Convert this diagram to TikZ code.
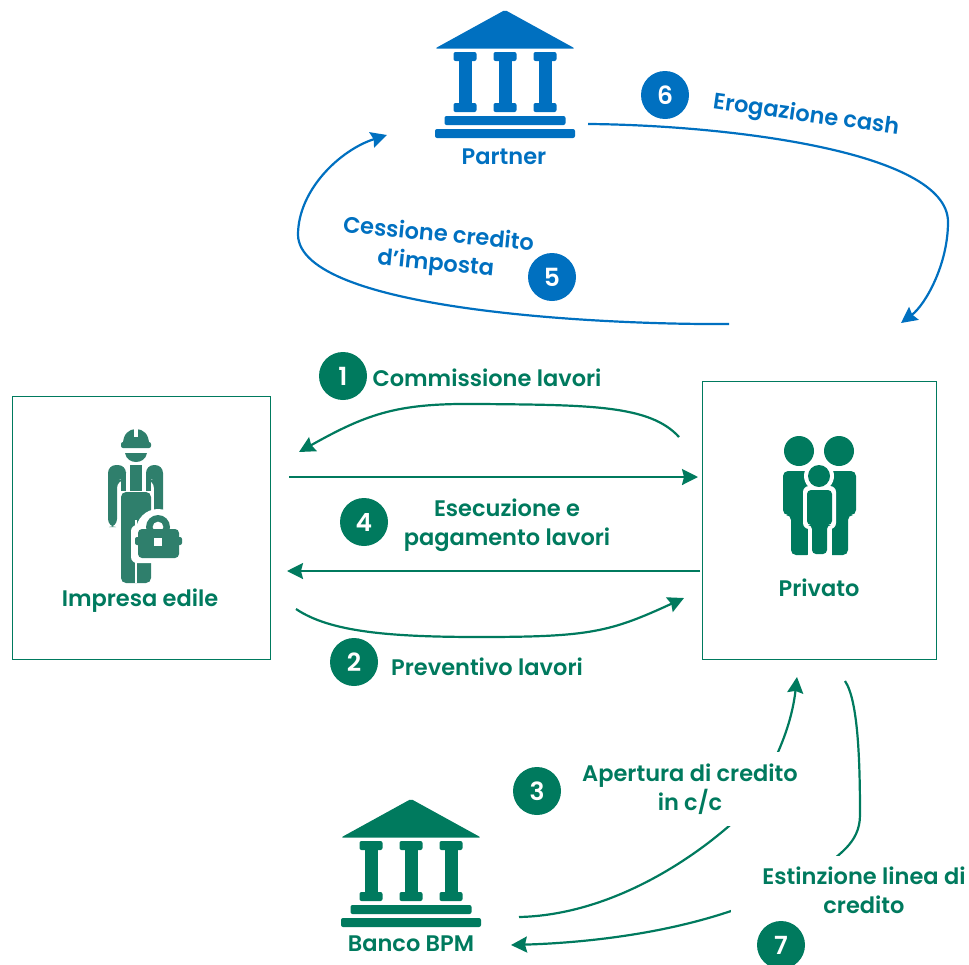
\documentclass[tikz,border=0pt]{standalone}
\usepackage{xcolor}
\usepackage{fontspec}
\setmainfont{Poppins}[BoldFont={Poppins SemiBold}]
\usetikzlibrary{arrows.meta}
\definecolor{bpmgreen}{HTML}{007A5E}
\definecolor{workergreen}{HTML}{2F7F6C}
\definecolor{partnerblue}{HTML}{0070C0}

\tikzset{
    panel/.style={draw=bpmgreen, line width=0.7pt, fill=none},
    badge/.style={circle, fill=#1, text=white, minimum size=48pt, inner sep=0pt, font=\fontsize{25}{25}\selectfont\bfseries},
    label/.style={text=#1, align=center, inner sep=0pt, font=\fontsize{22.5}{29}\selectfont\bfseries},
    cover/.style={fill=white, inner xsep=4pt, inner ysep=6pt},
    flow/.style={draw=#1, line width=2.2pt, -{Stealth[length=16pt,width=16pt,inset=2pt]}},
    bankicon/.pic={
        \fill[rounded corners=2pt] (0,0) -- (70,38.5) -- (-70,38.5) -- cycle;
        \foreach \colx in {-40,0,40} {
            \fill[rounded corners=2pt] (\colx-11.5,42) rectangle (\colx+11.5,51);
            \fill (\colx-6.5,50) rectangle (\colx+6.5,94);
            \fill[rounded corners=2pt] (\colx-11.5,93) rectangle (\colx+11.5,102);
        }
        \fill[rounded corners=2pt] (-60.5,106) rectangle (60.5,115);
        \fill[rounded corners=2pt] (-70,119) rectangle (70,128);
    }
}

\begin{document}
\begin{tikzpicture}[x=1pt, y=-1pt]
    \useasboundingbox (0,0) rectangle (969,964);

    % end points of the connectors
    \coordinate (commStart) at (679,437);
    \coordinate (commEnd) at (299,452);
    \coordinate (topStart) at (289,477);
    \coordinate (topEnd) at (698,477);
    \coordinate (execStart) at (700,571);
    \coordinate (execEnd) at (287,571);
    \coordinate (prevStart) at (296,609);
    \coordinate (prevEnd) at (684,598);
    \coordinate (openStart) at (519,917);
    \coordinate (openEnd) at (797,677);
    \coordinate (closeStart) at (845,681);
    \coordinate (closeEnd) at (511,945);
    \coordinate (sellStart) at (729,324);
    \coordinate (sellEnd) at (387,135);
    \coordinate (cashStart) at (588,124);
    \coordinate (cashEnd) at (901,323);

    \node[panel, minimum width=258pt, minimum height=263pt] (impresa) at (141,527.5) {};
    \node[panel, minimum width=234pt, minimum height=278pt] (privato) at (819,520) {};

    \draw[flow=bpmgreen] (commStart) .. controls (650,405) and (590,405) .. (480,404) .. controls (400,403) and (370,412) .. (commEnd);
    \draw[flow=bpmgreen] (topStart) -- (topEnd);
    \draw[flow=bpmgreen] (execStart) -- (execEnd);
    \draw[flow=bpmgreen] (prevStart) .. controls (330,632) and (390,637) .. (480,637) .. controls (590,637) and (610,632) .. (prevEnd);
    \draw[flow=bpmgreen] (openStart) .. controls (610,915) and (690,860) .. (729,826) .. controls (760,795) and (790,740) .. (openEnd);
    \draw[flow=bpmgreen] (closeStart) .. controls (858,700) and (860,760) .. (860,815) .. controls (860,845) and (835,855) .. (825,868) .. controls (800,885) and (760,900) .. (731,911) .. controls (660,935) and (580,943) .. (closeEnd);
    \draw[flow=partnerblue] (sellStart) .. controls (600,325) and (300,310) .. (298,235) .. controls (298,190) and (340,150) .. (sellEnd);
    \draw[flow=partnerblue] (cashStart) .. controls (720,125) and (948,150) .. (948,222) .. controls (948,265) and (925,305) .. (cashEnd);

    % banks
    \pic[fill=partnerblue] (partnerbank) at (505,10) {bankicon};
    \pic[fill=bpmgreen] (bpmbank) at (411,799) {bankicon};

    % worker
    \begin{scope}[fill=workergreen]
        \fill (123,444) .. controls (123,434) and (129,429) .. (136,429) .. controls (143,429) and (149,434) .. (149,444) -- cycle;
        \fill[rounded corners=2pt] (121,442) rectangle (151,448);
        \fill (125,453) -- (147,453) .. controls (146,459) and (141,462) .. (136,462) .. controls (131,462) and (126,459) .. (125,453) -- cycle;
        \fill[rounded corners=8pt] (108,527) -- (108,465) -- (126,465) -- (126,480) -- (117,480) -- (117,527) -- cycle;
        \fill[rounded corners=8pt] (154,530) -- (154,480) -- (146,480) -- (146,465) -- (163,465) -- (163,530) -- cycle;
        \fill (121,472) rectangle (126,490.5);
        \fill (146,472) rectangle (151,490.5);
        \fill (130,465) rectangle (142,490.5);
        \fill[rounded corners=5pt] (121,492) rectangle (151,583);
        \fill[white] (134.8,520) rectangle (137.2,583);
        \fill[white] (134,429) rectangle (138,437);
    \end{scope}
    \fill[white] (158,531) circle (22);
    \fill[white, rounded corners=6pt] (131,525) rectangle (184,563);
    \fill[workergreen, even odd rule] (158,527) circle (12) (158,527) circle (5.5);
    \fill[workergreen, rounded corners=4pt] (138,529) rectangle (179,558);
    \fill[workergreen, rounded corners=2pt] (135,537) rectangle (182,545);
    \fill[white] (154,538) rectangle (162,546);

    % family
    \fill[bpmgreen] (799,451) circle (15) (839,451) circle (15);
    \fill[bpmgreen, rounded corners=5pt] (783,471) -- (812,471) -- (812,555) -- (791,555) -- (791,515) -- (783,515) -- cycle;
    \fill[bpmgreen, rounded corners=5pt] (856,471) -- (826,471) -- (826,555) -- (848,555) -- (848,515) -- (856,515) -- cycle;
    \fill[white] (819,476) circle (15);
    \fill[white, rounded corners=6pt] (803,486) rectangle (836,529);
    \fill[white] (807.5,525) rectangle (831.5,556);
    \fill[bpmgreen] (819,476) circle (11);
    \fill[bpmgreen, rounded corners=4pt] (807,490) -- (832,490) -- (832,525) -- (827,525) -- (827,554) -- (812,554) -- (812,525) -- (807,525) -- cycle;

    % labels
    \node[label=partnerblue] (partnerlabel) at (504,157) {Partner};
    \node[label=bpmgreen] (bpmlabel) at (411,944) {Banco BPM};
    \node[label=bpmgreen] (impresalabel) at (140,601) {Impresa edile};
    \node[label=bpmgreen] (privatolabel) at (819,588) {Privato};
    \node[label=bpmgreen] (commlabel) at (487,378) {Commissione lavori};
    \node[label=bpmgreen] (execlabel) at (507,525) {Esecuzione e\\pagamento lavori};
    \node[label=bpmgreen] (prevlabel) at (487,667) {Preventivo lavori};
    \node[label=bpmgreen, cover, inner ysep=12pt] (openlabel) at (690,789) {Apertura di credito\\in c/c};
    \node[label=bpmgreen, cover, inner xsep=31pt, inner ysep=11pt] (closelabel) at (864,890) {Estinzione linea di\\credito};
    \node[label=partnerblue, rotate=-5.5] (selllabel) at (437,250) {Cessione credito\\d'imposta};
    \node[label=partnerblue, rotate=-8] (cashlabel) at (806,116) {Erogazione cash};

    \node[badge=bpmgreen] (one) at (343,376) {1};
    \node[badge=bpmgreen] (four) at (364,522) {4};
    \node[badge=bpmgreen] (two) at (354,662) {2};
    \node[badge=bpmgreen] (three) at (537,791) {3};
    \node[badge=bpmgreen] (seven) at (781,945) {7};
    \node[badge=partnerblue] (five) at (552,277) {5};
    \node[badge=partnerblue] (six) at (665,95) {6};
\end{tikzpicture}
\end{document}
